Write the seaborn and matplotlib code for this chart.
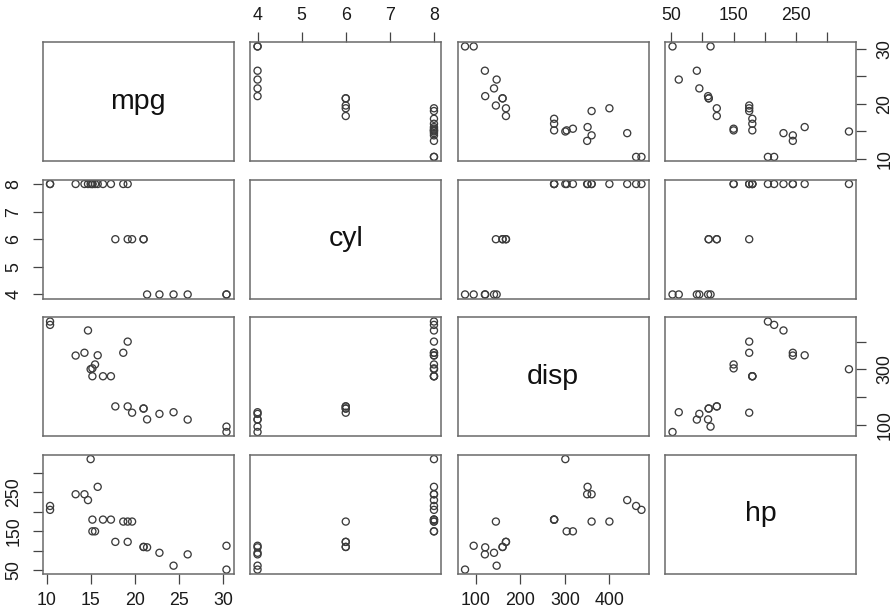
import numpy as np
import pandas as pd
import matplotlib
matplotlib.use("Agg")
import matplotlib.pyplot as plt
import seaborn as sns

# ---- data (mtcars subset) ----
cars = ["Mazda RX4", "Mazda RX4 Wag", "Hornet Sportabout", "Duster 360",
        "Merc 240D", "Merc 230", "Merc 280", "Merc 280C", "Merc 450SE",
        "Merc 450SL", "Merc 450SLC", "Cadillac Fleetwood",
        "Lincoln Continental", "Chrysler Imperial", "Honda Civic",
        "Dodge Challenger", "AMC Javelin", "Camaro Z28", "Pontiac Firebird",
        "Porsche 914-2", "Lotus Europa", "Ford Pantera L", "Ferrari Dino",
        "Maserati Bora", "Volvo 142E"]
mpg = [21.0, 21.0, 18.7, 14.3, 24.4, 22.8, 19.2, 17.8, 16.4, 17.3, 15.2,
       10.4, 10.4, 14.7, 30.4, 15.5, 15.2, 13.3, 19.2, 26.0, 30.4, 15.8,
       19.7, 15.0, 21.4]
cyl = [6, 6, 8, 8, 4, 4, 6, 6, 8, 8, 8, 8, 8, 8, 4, 8, 8, 8, 8, 4, 4, 8,
       6, 8, 4]
disp = [160, 160, 360, 360, 146.7, 140.8, 167.6, 167.6, 275.8, 275.8,
        275.8, 472, 460, 440, 75.7, 318, 304, 350, 400, 120.3, 95.1, 351,
        145, 301, 121]
hp = [110, 110, 175, 245, 62, 95, 123, 123, 180, 180, 180, 205, 215, 230,
      52, 150, 150, 245, 175, 91, 113, 264, 175, 335, 109]

variables = ["mpg", "cyl", "disp", "hp"]
tick_locs = {"mpg": [10, 15, 20, 25, 30], "cyl": [4, 5, 6, 7, 8],
             "disp": [100, 200, 300, 400], "hp": [50, 100, 150, 200, 250, 300]}
labels_horizontal = {"mpg": ["10", "15", "20", "25", "30"],
                     "cyl": ["4", "5", "6", "7", "8"],
                     "disp": ["100", "200", "300", "400"],
                     "hp": ["50", "", "150", "", "250", ""]}
labels_vertical = {"mpg": ["10", "", "20", "", "30"],
                   "cyl": ["4", "5", "6", "7", "8"],
                   "disp": ["100", "", "300", ""],
                   "hp": ["50", "", "150", "", "250", ""]}

df = pd.DataFrame({"car": cars, "mpg": mpg, "cyl": cyl, "disp": disp, "hp": hp})

sns.set_theme(style="white")
plt.rcParams["font.family"] = ["Liberation Sans", "DejaVu Sans"]

lims = {}
for v in variables:
    lo, hi = df[v].min(), df[v].max()
    pad = 0.04 * (hi - lo)
    lims[v] = (lo - pad, hi + pad)

fig, axes = plt.subplots(4, 4, figsize=(8.94, 6.15), dpi=100)
fig.subplots_adjust(left=43 / 894, right=856 / 894, bottom=1 - 574 / 615,
                    top=1 - 42 / 615, wspace=0.089, hspace=0.153)

frame_col = "#6a6a6a"
tick_col = "#444444"
tick_kw = dict(length=7.2, width=0.9, color=tick_col, labelsize=12.8,
               labelcolor="#1a1a1a")

for i, yv in enumerate(variables):
    for j, xv in enumerate(variables):
        ax = axes[i][j]
        if i != j:
            sns.scatterplot(data=df, x=xv, y=yv, ax=ax, s=26,
                            facecolor="none", edgecolor="#3c3c3c",
                            linewidth=0.95, legend=False)
        else:
            ax.text(0.5, 0.5, xv, transform=ax.transAxes, ha="center",
                    va="center", fontsize=20.5, color="#111111")
        ax.set_xlim(lims[xv])
        ax.set_ylim(lims[yv])
        ax.set_xlabel("")
        ax.set_ylabel("")
        ax.set_xticks([])
        ax.set_yticks([])
        ax.grid(False)
        for sp in ax.spines.values():
            sp.set_visible(True)
            sp.set_color(frame_col)
            sp.set_linewidth(1.1)

        # x axes: top for even columns (2,4), bottom for odd (1,3)
        if i == 0 and j % 2 == 1:
            ax.xaxis.set_ticks_position("top")
            ax.set_xticks(tick_locs[xv])
            ax.set_xticklabels(labels_horizontal[xv])
            ax.tick_params(axis="x", top=True, bottom=False, labeltop=True,
                           labelbottom=False, pad=6, **tick_kw)
        if i == 3 and j % 2 == 0:
            ax.xaxis.set_ticks_position("bottom")
            ax.set_xticks(tick_locs[xv])
            ax.set_xticklabels(labels_horizontal[xv])
            ax.tick_params(axis="x", bottom=True, top=False, pad=6, **tick_kw)
        # y axes: left for even rows (2,4), right for odd rows (1,3)
        if j == 0 and i % 2 == 1:
            ax.yaxis.set_ticks_position("left")
            ax.set_yticks(tick_locs[yv])
            ax.set_yticklabels(labels_vertical[yv], rotation=90, va="center")
            ax.tick_params(axis="y", left=True, right=False, pad=7.5, **tick_kw)
        if j == 3 and i % 2 == 0:
            ax.yaxis.set_ticks_position("right")
            ax.set_yticks(tick_locs[yv])
            ax.set_yticklabels(labels_vertical[yv], rotation=90, va="center")
            ax.tick_params(axis="y", right=True, left=False, labelright=True,
                           labelleft=False, pad=7.5, **tick_kw)

fig.savefig("out.png", dpi=100, facecolor="white")
